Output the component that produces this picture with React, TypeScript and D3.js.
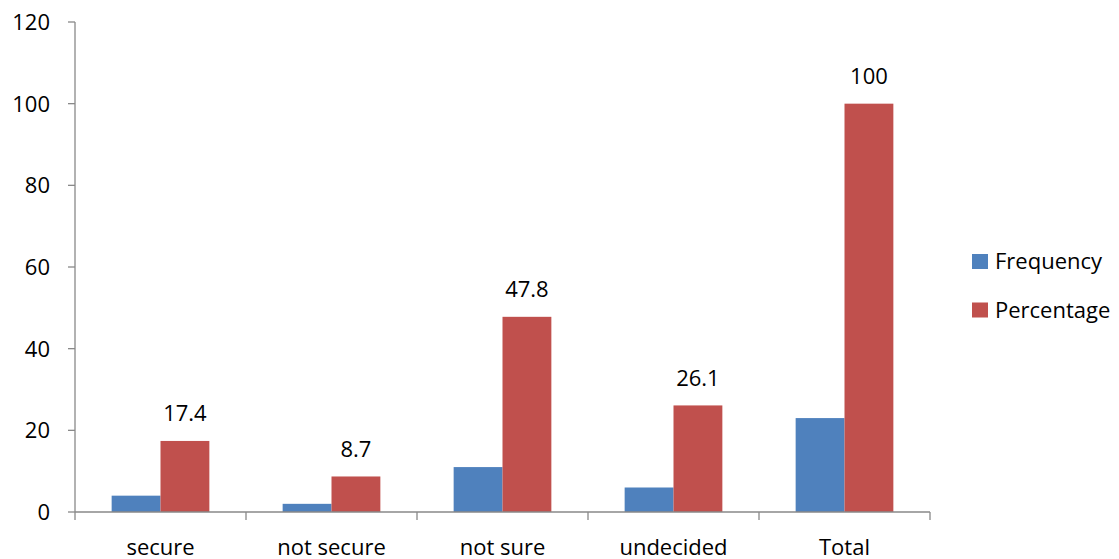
import React from "react";
import * as d3 from "d3";

// Survey responses: frequency counts and percentage share per answer
const categories = ["secure", "not secure", "not sure", "undecided", "Total"];
const frequency = [4, 2, 11, 6, 23];
const percentage = [17.4, 8.7, 47.8, 26.1, 100];
const seriesNames = ["Frequency", "Percentage"];
const seriesColors = ["#4F81BD", "#C0504D"];
const yTicks = [0, 20, 40, 60, 80, 100, 120];

const W = 1119;
const H = 559;
const FONT = "'Open Sans', Calibri, sans-serif";
const AXIS = "#898989";

export default function App() {
  const x0 = d3.scaleBand<string>().domain(categories).range([75, 930]).padding(0);
  const bw = x0.bandwidth();
  const gap = (bw * 1.5) / 3.5;
  const x1 = d3
    .scaleBand<string>()
    .domain(seriesNames)
    .range([gap / 2, bw - gap / 2])
    .padding(0);
  const y = d3.scaleLinear().domain([0, 120]).range([512, 22]);

  const values = [frequency, percentage];

  return (
    <div style={{ position: "fixed", left: 0, top: 0, width: W, height: H, background: "#fff" }}>
      <svg width={W} height={H} style={{ display: "block" }} fontFamily={FONT}>
        {/* y axis */}
        <line x1={75} x2={75} y1={y(120)} y2={y(0)} stroke={AXIS} strokeWidth={1.3} />
        {yTicks.map((t) => (
          <g key={t}>
            <line x1={68} x2={75} y1={y(t)} y2={y(t)} stroke={AXIS} strokeWidth={1.3} />
            <text x={50} y={y(t) + 8} textAnchor="end" fontSize={22} fill="#000">
              {t}
            </text>
          </g>
        ))}

        {/* bars */}
        {categories.map((c, i) => (
          <g key={c} transform={`translate(${x0(c)},0)`}>
            {seriesNames.map((s, j) => (
              <rect
                key={s}
                x={x1(s)}
                y={y(values[j][i])}
                width={x1.bandwidth()}
                height={y(0) - y(values[j][i])}
                fill={seriesColors[j]}
              />
            ))}
            <text
              x={(x1("Percentage") as number) + x1.bandwidth() / 2}
              y={y(percentage[i]) - 19.5}
              textAnchor="middle"
              fontSize={22}
              fill="#000"
            >
              {percentage[i]}
            </text>
          </g>
        ))}

        {/* x axis */}
        <line x1={75} x2={930} y1={y(0)} y2={y(0)} stroke={AXIS} strokeWidth={1.3} />
        {categories.map((c) => (
          <line
            key={c}
            x1={x0(c)}
            x2={x0(c)}
            y1={y(0)}
            y2={y(0) + 8}
            stroke={AXIS}
            strokeWidth={1.3}
          />
        ))}
        <line x1={930} x2={930} y1={y(0)} y2={y(0) + 8} stroke={AXIS} strokeWidth={1.3} />
        {categories.map((c) => (
          <text
            key={c}
            x={(x0(c) as number) + bw / 2}
            y={555}
            textAnchor="middle"
            fontSize={22}
            fill="#000"
          >
            {c}
          </text>
        ))}

        {/* legend */}
        {seriesNames.map((s, j) => (
          <g key={s} transform={`translate(972,${254 + j * 48.5})`}>
            <rect x={0} y={0} width={16} height={15} fill={seriesColors[j]} />
            <text x={23} y={15} fontSize={22} fill="#000">
              {s}
            </text>
          </g>
        ))}
      </svg>
    </div>
  );
}
